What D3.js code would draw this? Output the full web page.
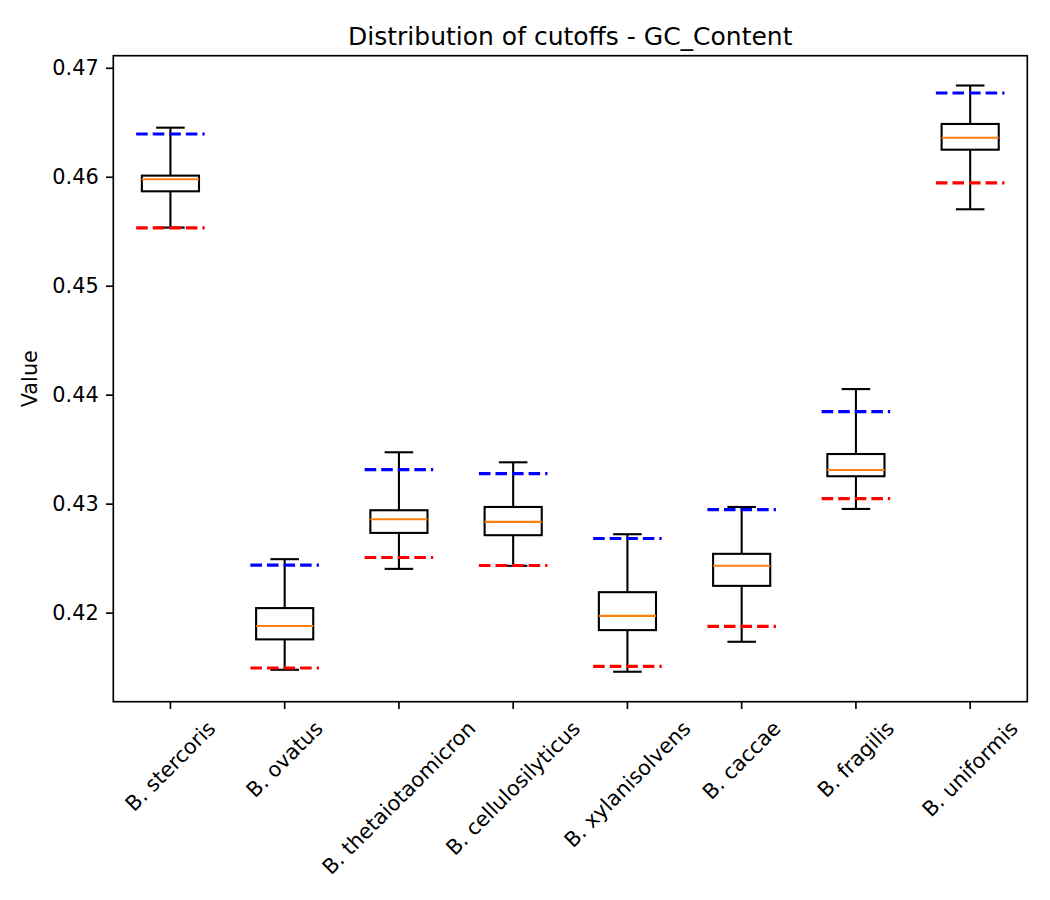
<!DOCTYPE html>
<html>
<head>
<meta charset="utf-8">
<script src="https://cdn.jsdelivr.net/npm/d3@7"></script>
<style>
  body { margin: 0; background: #fff; }
  text { font-family: "DejaVu Sans", sans-serif; fill: #000; }
</style>
</head>
<body>
<div class="container"></div>
<script>
// species on the x axis
const species = ['B. stercoris', 'B. ovatus', 'B. thetaiotaomicron', 'B. cellulosilyticus',
                 'B. xylanisolvens', 'B. caccae', 'B. fragilis', 'B. uniformis']

// box statistics
const whiskerLow  = [0.45538, 0.41480, 0.42406, 0.42434, 0.41462, 0.41737, 0.42956, 0.45706]
const q1          = [0.45871, 0.41759, 0.42736, 0.42715, 0.41844, 0.42250, 0.43256, 0.46253]
const medians     = [0.45981, 0.41881, 0.42862, 0.42837, 0.41975, 0.42434, 0.43313, 0.46363]
const q3          = [0.46015, 0.42046, 0.42944, 0.42974, 0.42192, 0.42544, 0.43460, 0.46489]
const whiskerHigh = [0.46455, 0.42495, 0.43476, 0.43384, 0.42724, 0.42974, 0.44056, 0.46842]

// cutoff lines (blue = upper, red = lower)
const upperCutoff = [0.46397, 0.42440, 0.43317, 0.43280, 0.42685, 0.42950, 0.43849, 0.46773]
const lowerCutoff = [0.45535, 0.41496, 0.42510, 0.42437, 0.41511, 0.41878, 0.43051, 0.45948]

const yTicks = [0.42, 0.43, 0.44, 0.45, 0.46, 0.47]

const W = 1050, H = 900
const pt = 150 / 72   // figure was rendered at 150 dpi
const margin = { left: 113.3, right: 1027.3, top: 55.7, bottom: 701.7 }

const svg = d3.select('div.container').append('svg')
    .attr('width', W).attr('height', H)

// scales: positions 1..8 with xlim 0.5..8.5
const x = d3.scaleLinear().domain([0.5, 8.5]).range([margin.left, margin.right])
const y = d3.scaleLinear()
    .domain([0.42 - (701.7 - 613) / 10910, 0.47 + (68.3 - 55.7) / 10910])
    .range([margin.bottom, margin.top])

const boxes = species.map((s, i) => ({
    name: s, pos: i + 1,
    lo: whiskerLow[i], q1: q1[i], med: medians[i], q3: q3[i], hi: whiskerHigh[i],
    up: upperCutoff[i], down: lowerCutoff[i]
}))

const lw = 1 * pt
const g = svg.append('g')

boxes.forEach(d => {
    const cx = x(d.pos)
    const bw = x(d.pos + 0.25) - cx
    const cw = x(d.pos + 0.125) - cx

    // whiskers
    g.append('line').attr('x1', cx).attr('x2', cx).attr('y1', y(d.q1)).attr('y2', y(d.lo))
        .attr('stroke', '#000').attr('stroke-width', lw)
    g.append('line').attr('x1', cx).attr('x2', cx).attr('y1', y(d.q3)).attr('y2', y(d.hi))
        .attr('stroke', '#000').attr('stroke-width', lw)
    // caps
    ;[d.lo, d.hi].forEach(v => {
        g.append('line').attr('x1', cx - cw).attr('x2', cx + cw).attr('y1', y(v)).attr('y2', y(v))
            .attr('stroke', '#000').attr('stroke-width', lw)
    })
    // box
    g.append('rect').attr('x', cx - bw).attr('width', 2 * bw)
        .attr('y', y(d.q3)).attr('height', y(d.q1) - y(d.q3))
        .attr('fill', 'none').attr('stroke', '#000').attr('stroke-width', lw)
    // median
    g.append('line').attr('x1', cx - bw).attr('x2', cx + bw).attr('y1', y(d.med)).attr('y2', y(d.med))
        .attr('stroke', '#ff7f0e').attr('stroke-width', lw)
})

// cutoff lines drawn on top
boxes.forEach(d => {
    const x1 = x(d.pos - 0.3), x2 = x(d.pos + 0.3)
    ;[[d.up, '#0000ff'], [d.down, '#ff0000']].forEach(([v, c]) => {
        g.append('line').attr('x1', x1).attr('x2', x2).attr('y1', y(v)).attr('y2', y(v))
            .attr('stroke', c).attr('stroke-width', 1.5 * pt)
            .attr('stroke-dasharray', `${5.55 * pt},${2.4 * pt}`)
    })
})

// frame
svg.append('rect')
    .attr('x', margin.left).attr('y', margin.top)
    .attr('width', margin.right - margin.left).attr('height', margin.bottom - margin.top)
    .attr('fill', 'none').attr('stroke', '#000').attr('stroke-width', 0.8 * pt)

const tickLen = 3.5 * pt, pad = 3.5 * pt, fs = 10 * pt

// y axis
const yAxis = svg.append('g')
yTicks.forEach(t => {
    const yy = y(t)
    yAxis.append('line').attr('x1', margin.left - tickLen).attr('x2', margin.left)
        .attr('y1', yy).attr('y2', yy).attr('stroke', '#000').attr('stroke-width', 0.8 * pt)
    yAxis.append('text').attr('x', margin.left - tickLen - pad).attr('y', yy)
        .attr('text-anchor', 'end').attr('dominant-baseline', 'central')
        .attr('font-size', fs + 'px').text(d3.format('.2f')(t))
})

// x axis, labels rotated 45 and centred on the tick like matplotlib does
const xAxis = svg.append('g')
boxes.forEach(d => {
    const xx = x(d.pos)
    xAxis.append('line').attr('x1', xx).attr('x2', xx)
        .attr('y1', margin.bottom).attr('y2', margin.bottom + tickLen)
        .attr('stroke', '#000').attr('stroke-width', 0.8 * pt)
    const t = xAxis.append('text')
        .attr('text-anchor', 'middle').attr('dominant-baseline', 'central')
        .attr('font-size', fs + 'px').text(d.name)
    const w = t.node().getComputedTextLength()
    const h = fs * 1.16
    const half = (w + h) * Math.SQRT1_2 / 2
    const cy = margin.bottom + tickLen + pad + half
    t.attr('transform', `translate(${xx},${cy}) rotate(-45)`)
})

// title and label
svg.append('text').attr('x', (margin.left + margin.right) / 2).attr('y', 45)
    .attr('text-anchor', 'middle').attr('font-size', (12 * pt) + 'px')
    .text('Distribution of cutoffs - GC_Content')

svg.append('text')
    .attr('transform', `translate(30,${(margin.top + margin.bottom) / 2}) rotate(-90)`)
    .attr('text-anchor', 'middle').attr('dominant-baseline', 'central')
    .attr('font-size', fs + 'px').text('Value')
</script>
</body>
</html>
